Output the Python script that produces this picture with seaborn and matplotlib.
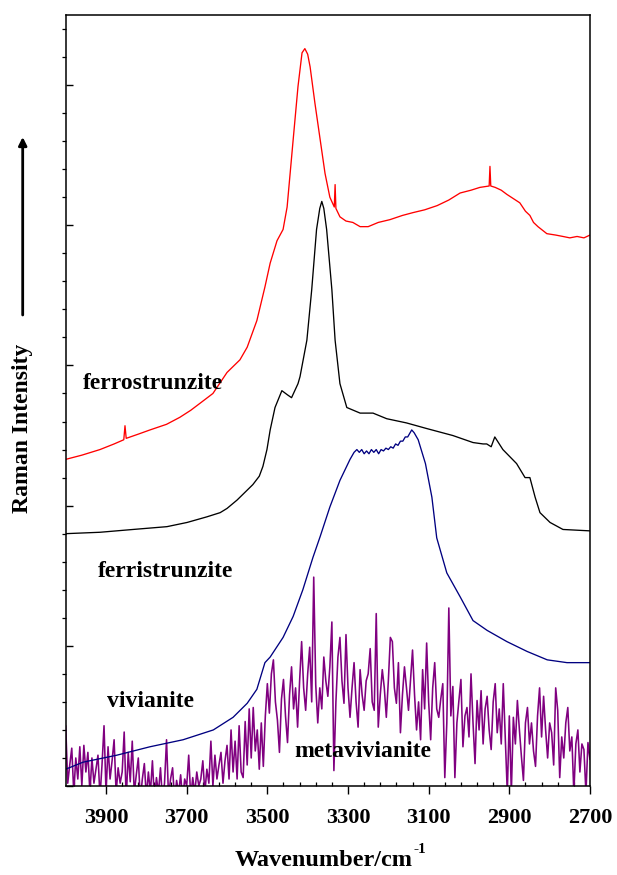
import numpy as np
import pandas as pd
import matplotlib
matplotlib.use("Agg")
import matplotlib.pyplot as plt
from matplotlib.ticker import MultipleLocator, FixedLocator, NullFormatter
import seaborn as sns

# ---------------- data ----------------
ferro_wn = [4000, 3960, 3915, 3880, 3856, 3853, 3850, 3820, 3791, 3750, 3717, 3690,
            3667, 3635, 3600, 3568, 3550, 3526, 3506, 3493, 3476, 3461, 3451, 3436,
            3424, 3414, 3407, 3400, 3394, 3382, 3369, 3357, 3345, 3334, 3332, 3330,
            3320, 3305, 3288, 3270, 3250, 3225, 3196, 3165, 3139, 3110, 3079, 3050,
            3022, 2995, 2973, 2950, 2948, 2946, 2935, 2920, 2906, 2890, 2874, 2860,
            2849, 2840, 2829, 2807, 2785, 2767, 2750, 2732, 2715, 2700]
ferro_int = [2.33, 2.36, 2.40, 2.44, 2.47, 2.57, 2.48, 2.51, 2.54, 2.58, 2.63, 2.68,
             2.73, 2.80, 2.95, 3.04, 3.13, 3.32, 3.56, 3.73, 3.89, 3.97, 4.13, 4.61,
             4.99, 5.23, 5.26, 5.22, 5.13, 4.87, 4.61, 4.37, 4.20, 4.13, 4.29, 4.12,
             4.06, 4.03, 4.02, 3.99, 3.99, 4.02, 4.04, 4.07, 4.09, 4.11, 4.14, 4.18,
             4.23, 4.25, 4.27, 4.28, 4.42, 4.28, 4.27, 4.25, 4.22, 4.19, 4.16, 4.10,
             4.07, 4.02, 3.99, 3.94, 3.93, 3.92, 3.91, 3.92, 3.91, 3.93]

ferri_wn = [4000, 3915, 3833, 3749, 3699, 3650, 3617, 3600, 3575, 3536, 3520, 3511,
            3501, 3493, 3481, 3464, 3450, 3440, 3424, 3419, 3402, 3390, 3378, 3370,
            3365, 3360, 3353, 3340, 3332, 3320, 3303, 3270, 3238, 3204, 3155, 3105,
            3040, 2990, 2965, 2956, 2945, 2936, 2916, 2882, 2861, 2849, 2836, 2824,
            2799, 2767, 2700]
ferri_int = [1.80, 1.81, 1.83, 1.85, 1.88, 1.92, 1.95, 1.98, 2.04, 2.15, 2.21, 2.28,
             2.40, 2.54, 2.70, 2.82, 2.79, 2.77, 2.87, 2.92, 3.18, 3.54, 3.97, 4.12,
             4.17, 4.12, 3.97, 3.54, 3.18, 2.87, 2.70, 2.66, 2.66, 2.62, 2.59, 2.55,
             2.50, 2.45, 2.44, 2.44, 2.42, 2.49, 2.40, 2.30, 2.20, 2.20, 2.06, 1.95,
             1.88, 1.83, 1.82]

vivi_wn = [4000, 3957, 3873, 3791, 3709, 3634, 3585, 3550, 3526, 3506, 3493, 3461,
           3436, 3412, 3387, 3369, 3345, 3320, 3295, 3285, 3278, 3272, 3266, 3260,
           3254, 3248, 3242, 3236, 3230, 3224, 3218, 3212, 3206, 3200, 3194, 3188,
           3182, 3176, 3170, 3164, 3158, 3152, 3146, 3142, 3136, 3126, 3108, 3092,
           3080, 3055, 3022, 2990, 2955, 2906, 2856, 2806, 2757, 2700]
vivi_int = [0.12, 0.17, 0.22, 0.28, 0.33, 0.40, 0.49, 0.59, 0.69, 0.88, 0.92, 1.06,
            1.21, 1.40, 1.63, 1.78, 1.99, 2.18, 2.33, 2.38, 2.40, 2.38, 2.40, 2.37,
            2.39, 2.37, 2.40, 2.38, 2.40, 2.37, 2.40, 2.39, 2.41, 2.40, 2.42, 2.41,
            2.44, 2.43, 2.46, 2.46, 2.49, 2.49, 2.52, 2.54, 2.52, 2.47, 2.30, 2.06,
            1.77, 1.52, 1.35, 1.18, 1.11, 1.03, 0.96, 0.90, 0.88, 0.88]

# metavivianite: sampled every 5 cm-1 from 4000 down to 2700
meta_wn = list(range(4000, 2699, -5))
meta_int = [
    0.43, 0.02, 0.15, 0.27, -0.05, 0.20, 0.05, 0.28, 0.00, 0.29, 0.10, 0.24,
    -0.05, 0.20, 0.02, 0.12, 0.22, -0.08, 0.15, 0.43, -0.05, 0.28, 0.05, 0.18,
    0.33, -0.05, 0.13, 0.02, 0.10, 0.385, -0.10, 0.24, 0.03, 0.32, -0.05, 0.08,
    0.20, -0.10, 0.05, 0.16, -0.08, 0.10, -0.05, 0.18, -0.10, 0.06, -0.05, 0.13,
    -0.10, 0.02, 0.33, -0.08, 0.05, 0.13, -0.10, 0.04, -0.05, 0.08, -0.10, 0.05,
    0.00, 0.22, -0.08, 0.06, -0.05, 0.10, 0.00, 0.05, 0.18, -0.05, 0.12, 0.02,
    0.32, 0.00, 0.22, 0.05, 0.15, 0.24, 0.02, 0.18, 0.29, 0.05, 0.40, 0.10,
    0.32, 0.05, 0.43, 0.10, 0.06, 0.46, 0.15, 0.55, 0.20, 0.56, 0.25, 0.40,
    0.12, 0.45, 0.14, 0.50,
    0.73, 0.52, 0.80, 0.90, 0.60, 0.47, 0.24, 0.62, 0.76, 0.50, 0.31, 0.65,
    0.85, 0.55, 0.70, 0.42, 0.75, 1.03, 0.70, 0.54, 0.80, 0.99, 0.60, 1.49,
    0.72, 0.45, 0.70, 0.55, 0.92, 0.75, 0.64, 0.85, 1.17, 0.11, 0.60, 0.92,
    1.06, 0.75, 0.59, 1.08, 0.70, 0.49, 0.70, 0.88, 0.60, 0.42, 0.83, 0.65,
    0.54, 0.75, 0.80, 0.98, 0.60, 0.54, 1.23, 0.42, 0.65, 0.83, 0.70, 0.49,
    0.75, 1.06, 1.03, 0.70, 0.59, 0.88, 0.38, 0.65, 0.85, 0.70, 0.54, 0.75,
    0.97, 0.65, 0.40, 0.60, 0.33, 0.83, 0.55, 1.02,
    0.60, 0.33, 0.70, 0.88, 0.55, 0.49, 0.62, 0.73, 0.06, 0.45, 1.27, 0.50,
    0.71, 0.06, 0.45, 0.61, 0.76, 0.28, 0.50, 0.56, 0.35, 0.80, 0.45, 0.16,
    0.61, 0.40, 0.68, 0.30, 0.55, 0.64, 0.40, 0.26, 0.60, 0.73, 0.38, 0.55,
    0.30, 0.73, 0.35, -0.05, 0.50, -0.05, 0.49, 0.30, 0.61, 0.40, 0.21, 0.04,
    0.45, 0.56, 0.30, 0.45, 0.25, 0.14, 0.50, 0.70, 0.35, 0.64, 0.40, 0.20,
    0.45, 0.38, 0.15, 0.70, 0.54, 0.06, 0.35, 0.20, 0.45, 0.56, 0.25, 0.35,
    -0.05, 0.30, 0.40, 0.10, 0.30, 0.26, -0.05, 0.31, 0.19,
]

names = ["metavivianite", "vivianite", "ferristrunzite", "ferrostrunzite"]
colors = {"metavivianite": "#800080", "vivianite": "#000080",
          "ferristrunzite": "#000000", "ferrostrunzite": "#ff0000"}
x_ticks = [3900, 3700, 3500, 3300, 3100, 2900, 2700]

frames = [
    pd.DataFrame({"wn": meta_wn, "I": meta_int, "spectrum": "metavivianite"}),
    pd.DataFrame({"wn": vivi_wn, "I": vivi_int, "spectrum": "vivianite"}),
    pd.DataFrame({"wn": ferri_wn, "I": ferri_int, "spectrum": "ferristrunzite"}),
    pd.DataFrame({"wn": ferro_wn, "I": ferro_int, "spectrum": "ferrostrunzite"}),
]
df = pd.concat(frames, ignore_index=True)

# ---------------- plotting ----------------
sns.set_style("ticks")
plt.rcParams["font.family"] = ["Liberation Serif", "DejaVu Serif"]
plt.rcParams["font.weight"] = "bold"
for key in ["text.color", "axes.labelcolor", "xtick.color", "ytick.color",
            "axes.edgecolor"]:
    plt.rcParams[key] = "black"

fig = plt.figure(figsize=(6.17, 8.75), dpi=100)
ax = fig.add_axes([0.1065, 0.1017, 0.8497, 0.8812])

sns.lineplot(data=df[df.spectrum == "metavivianite"], x="wn", y="I",
             hue="spectrum", palette=colors, sort=False, estimator=None,
             legend=False, linewidth=1.15, ax=ax)
sns.lineplot(data=df[df.spectrum != "metavivianite"], x="wn", y="I",
             hue="spectrum", hue_order=names[1:], palette=colors, sort=False,
             estimator=None, legend=False, linewidth=0.95, ax=ax)

ax.set_xlim(4000, 2700)
ax.set_ylim(0, 5.5)
ax.set_xlabel("")
ax.set_ylabel("")

ax.xaxis.set_major_locator(FixedLocator(x_ticks))
ax.xaxis.set_minor_locator(FixedLocator(list(range(2740, 4000, 40))))
ax.yaxis.set_major_locator(MultipleLocator(1))
ax.yaxis.set_minor_locator(MultipleLocator(0.2))
ax.yaxis.set_major_formatter(NullFormatter())

ax.tick_params(axis="x", which="major", direction="out", length=5.5, width=1,
               labelsize=16, pad=10, colors="black")
ax.tick_params(axis="x", which="minor", direction="in", length=3, width=0.9)
ax.tick_params(axis="y", which="major", direction="in", length=5, width=1,
               labelleft=False)
ax.tick_params(axis="y", which="minor", direction="out", length=3, width=0.9)
for lab in ax.get_xticklabels():
    lab.set_fontfamily(["Liberation Serif"])
    lab.set_fontweight("bold")
for s in ax.spines.values():
    s.set_linewidth(1.1)
    s.set_color("black")
    s.set_visible(True)

txt = dict(fontsize=17, fontweight="bold", color="black",
           fontfamily=["Liberation Serif"])
ax.text(3957, 2.83, "ferrostrunzite", ha="left", va="baseline", **txt)
ax.text(3920, 1.49, "ferristrunzite", ha="left", va="baseline", **txt)
ax.text(3898, 0.566, "vivianite", ha="left", va="baseline", **txt)
ax.text(3434, 0.205, "metavivianite", ha="left", va="baseline", **txt)

fig.text(235 / 617, 1 - 866 / 875, "Wavenumber/cm", ha="left", va="baseline",
         fontsize=17.5, fontweight="bold", fontfamily=["Liberation Serif"])
fig.text(413 / 617, 1 - 853 / 875, "-1", ha="left", va="baseline",
         fontsize=11, fontweight="bold", fontfamily=["Liberation Serif"])
fig.text(23 / 617, 1 - 428 / 875, "Raman Intensity", rotation=90,
         ha="center", va="center", fontsize=17, fontweight="bold",
         fontfamily=["Liberation Serif"])
ax.annotate("", xy=(22.7 / 617, 1 - 137 / 875), xytext=(22.7 / 617, 1 - 315 / 875),
            xycoords="figure fraction", textcoords="figure fraction",
            arrowprops=dict(arrowstyle="-|>", lw=2, color="black",
                            mutation_scale=12, shrinkA=0, shrinkB=0))

fig.savefig("out.png", dpi=100)
